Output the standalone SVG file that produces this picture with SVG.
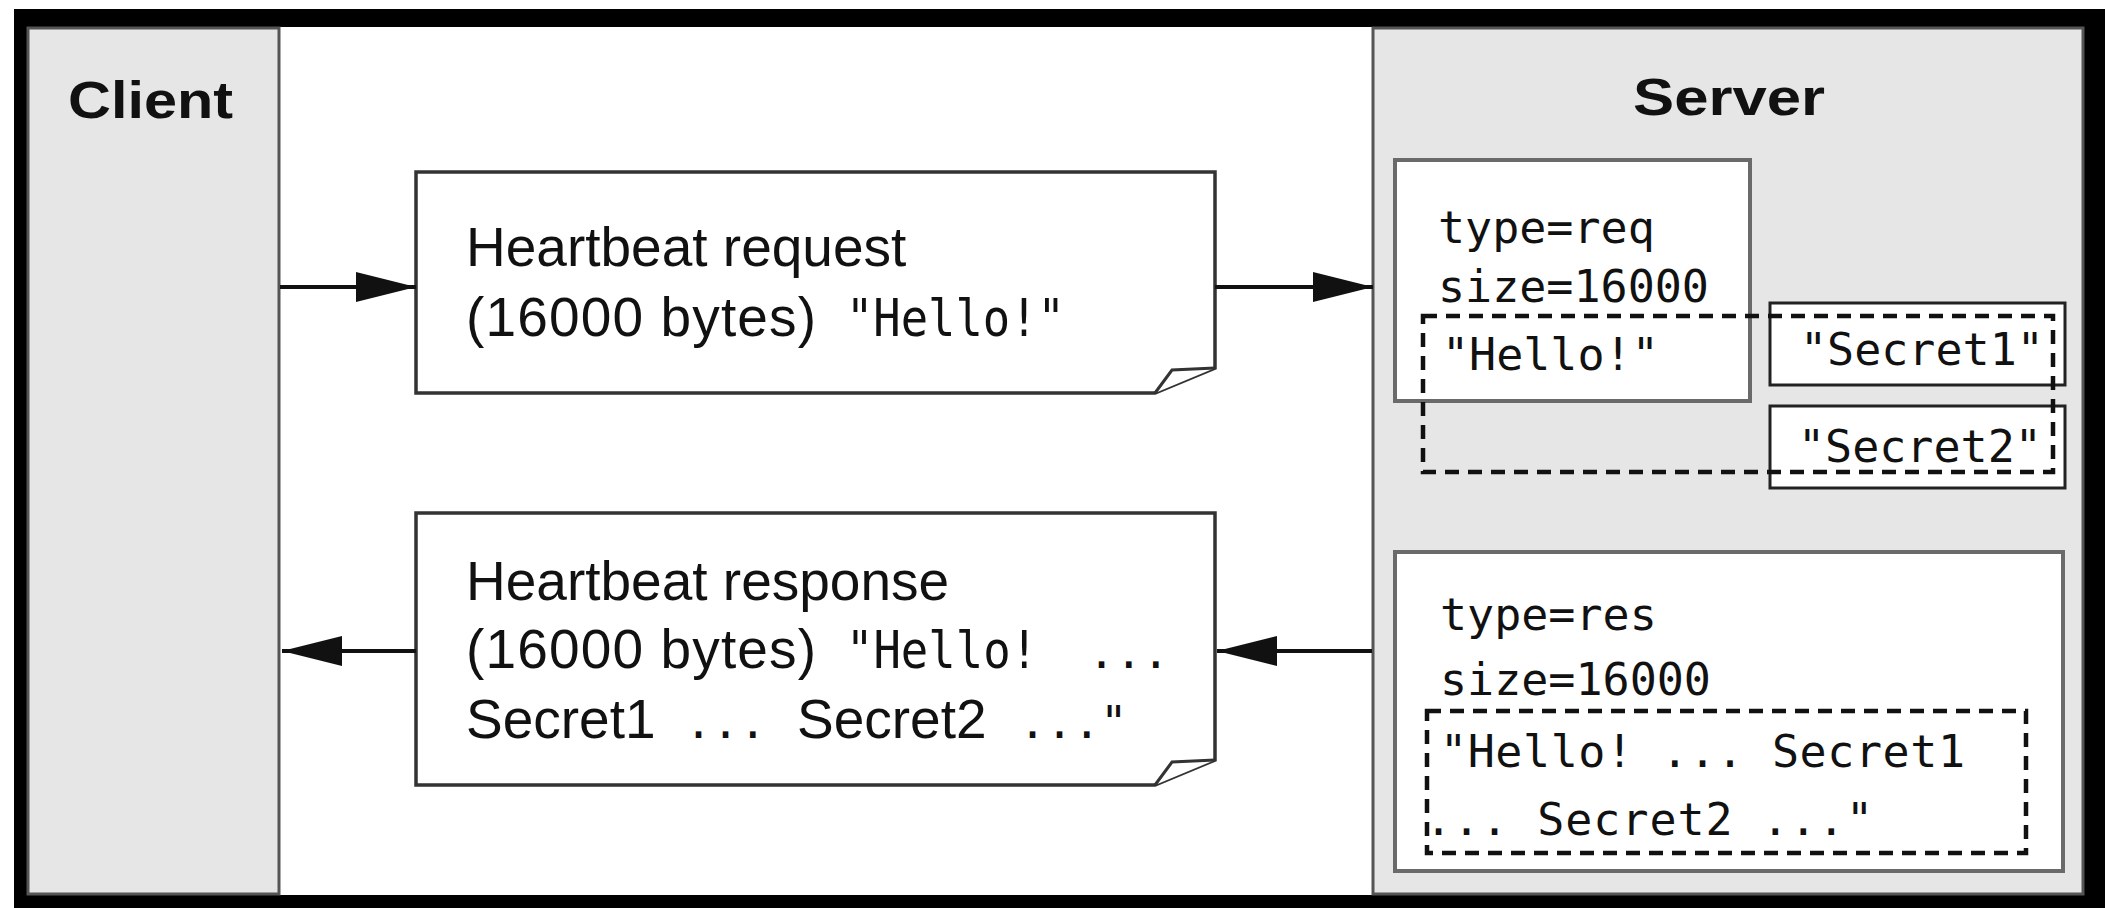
<svg xmlns="http://www.w3.org/2000/svg" width="2105" height="908" viewBox="0 0 2105 908">
<defs>
<style>
.panel{fill:#e6e6e6;stroke:#555;stroke-width:3}
.msg{fill:#fff;stroke:#333;stroke-width:3.5}
.store{fill:#fff;stroke:#6a6a6a;stroke-width:4}
.secret{fill:#fff;stroke:#222;stroke-width:3}
.dash{fill:none;stroke:#111;stroke-width:4.5;stroke-dasharray:14 9}
.title{font-family:"Liberation Sans",Arial,sans-serif;font-weight:bold;font-size:52px;fill:#111}
.sans{font-family:"Liberation Sans",Arial,sans-serif;font-size:55px;fill:#111}
.mono{font-family:"DejaVu Sans Mono","Liberation Mono",monospace;font-size:45px;fill:#111}
.monob{font-family:"DejaVu Sans Mono","Liberation Mono",monospace;font-size:51px;fill:#111}
.conn{stroke:#111;stroke-width:4;fill:none}
</style>
<marker id="arrow" markerUnits="userSpaceOnUse" markerWidth="60" markerHeight="30" refX="60" refY="15" orient="auto">
<path d="M0,0 L60,15 L0,30 Z" fill="#111"/>
</marker>
</defs>
<rect x="0" y="0" width="2105" height="908" fill="#fff"/>
<rect x="14" y="9" width="2091" height="899" fill="#000"/>
<rect x="27" y="27" width="2057" height="868" fill="#fff"/>

<g id="client">
<rect class="panel" x="28" y="28" width="251" height="866"/>
<text class="title" x="68" y="118" textLength="165" lengthAdjust="spacingAndGlyphs">Client</text>
</g>

<g id="server">
<rect class="panel" x="1373" y="28" width="710" height="866"/>
<text class="title" x="1633" y="115" textLength="192" lengthAdjust="spacingAndGlyphs">Server</text>
</g>

<g id="heartbeat-request">
<path class="msg" d="M416,172 H1215 V368 L1155,393 H416 Z"/>
<path d="M1155,393 L1172,370 L1215,368" fill="#fff" stroke="#333" stroke-width="3"/>
<text class="sans" x="466" y="266">Heartbeat request</text>
<text x="466" y="336"><tspan class="sans" textLength="350" lengthAdjust="spacing">(16000 bytes)</tspan><tspan class="monob" x="846" textLength="219" lengthAdjust="spacingAndGlyphs">"Hello!"</tspan></text>
</g>

<g id="heartbeat-response">
<path class="msg" d="M416,513 H1215 V760 L1155,785 H416 Z"/>
<path d="M1155,785 L1172,762 L1215,760" fill="#fff" stroke="#333" stroke-width="3"/>
<text class="sans" x="466" y="600">Heartbeat response</text>
<text x="466" y="668"><tspan class="sans" textLength="350" lengthAdjust="spacing">(16000 bytes)</tspan><tspan class="monob" x="846" textLength="192" lengthAdjust="spacingAndGlyphs">"Hello!</tspan><tspan class="mono" x="1061"> ...</tspan></text>
<text x="466" y="738"><tspan class="sans">Secret1</tspan><tspan class="mono" x="685">...</tspan><tspan class="sans" x="797">Secret2</tspan><tspan class="mono" x="1019">..."</tspan></text>
</g>

<g id="server-request">
<rect class="store" x="1395" y="160" width="355" height="241"/>
<text class="mono" x="1438" y="243">type=req</text>
<text class="mono" x="1438" y="302">size=16000</text>
<text class="mono" x="1442" y="370">"Hello!"</text>
</g>

<g id="secret1">
<rect class="secret" x="1770" y="303" width="295" height="82"/>
<text class="mono" x="1800" y="365">"Secret1"</text>
</g>

<g id="secret2">
<rect class="secret" x="1770" y="406" width="295" height="82"/>
<text class="mono" x="1798" y="462">"Secret2"</text>
</g>

<g id="read-region">
<rect class="dash" x="1423" y="316" width="630" height="156"/>
</g>

<g id="server-response">
<rect class="store" x="1395" y="552" width="668" height="319"/>
<text class="mono" x="1440" y="630">type=res</text>
<text class="mono" x="1440" y="695">size=16000</text>
<rect class="dash" x="1427" y="711" width="599" height="142"/>
<text class="mono" x="1440" y="767" textLength="525" lengthAdjust="spacing">"Hello! ... Secret1</text>
<text class="mono" x="1425" y="835" textLength="448" lengthAdjust="spacing">... Secret2 ..."</text>
</g>

<g id="connectors">
<line class="conn" x1="280" y1="287" x2="416" y2="287" marker-end="url(#arrow)"/>
<line class="conn" x1="1215" y1="287" x2="1373" y2="287" marker-end="url(#arrow)"/>
<line class="conn" x1="1372" y1="651" x2="1217" y2="651" marker-end="url(#arrow)"/>
<line class="conn" x1="416" y1="651" x2="282" y2="651" marker-end="url(#arrow)"/>
</g>
</svg>
